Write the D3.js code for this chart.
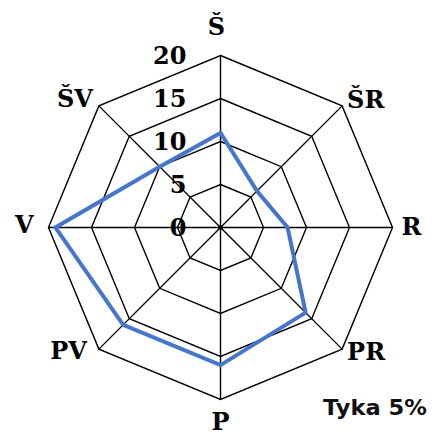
<!DOCTYPE html>
<html>
<head>
<meta charset="utf-8">
<script src="https://cdn.jsdelivr.net/npm/d3@7"></script>
<style>
html,body{margin:0;padding:0;background:#fff;}
svg{display:block;}
.serif{font-family:"DejaVu Serif","Liberation Serif",serif;font-weight:bold;}
</style>
</head>
<body>
<svg id="chart" width="434" height="442"></svg>
<script>
// Data
const directions = ["Š", "ŠR", "R", "PR", "P", "PV", "V", "ŠV"];
const values = [11, 6, 7.8, 14, 16, 16, 19.2, 10];
const tickValues = [0, 5, 10, 15, 20];
const tickLabels = ["0", "5", "10", "15", "20"];
const seriesName = "Tyka 5%";

// Layout
const W = 434, H = 442;
const cx = 220.5, cy = 227.5, outerR = 172;

const svg = d3.select("#chart");
const r = d3.scaleLinear().domain([0, 20]).range([0, outerR]);
const angle = d3.scaleLinear().domain([0, directions.length]).range([0, 2 * Math.PI]);

const g = svg.append("g").attr("transform", `translate(${cx},${cy})`);

function pt(i, v) {
  const a = angle(i);
  return [r(v) * Math.sin(a), -r(v) * Math.cos(a)];
}

// Rings
const ringLine = d3.line().curve(d3.curveLinearClosed);
tickValues.filter(t => t > 0).forEach(t => {
  g.append("path")
    .attr("d", ringLine(directions.map((d, i) => pt(i, t))))
    .attr("fill", "none")
    .attr("stroke", "#000")
    .attr("stroke-width", 1.4);
});

// Spokes
directions.forEach((d, i) => {
  const [x, y] = pt(i, 20);
  g.append("line")
    .attr("x1", 0).attr("y1", 0).attr("x2", x).attr("y2", y)
    .attr("stroke", "#000").attr("stroke-width", 1.4);
});
g.append("circle").attr("r", 2.2).attr("fill", "#000");

// Tick labels
g.selectAll("text.tick")
  .data(tickValues)
  .enter().append("text")
  .attr("class", "tick serif")
  .attr("x", -34)
  .attr("y", d => -r(d))
  .attr("dy", "0.34em")
  .attr("text-anchor", "end")
  .attr("font-size", 24)
  .text((d, i) => tickLabels[i]);

// Series
g.append("path")
  .attr("d", ringLine(values.map((v, i) => pt(i, v))))
  .attr("fill", "none")
  .attr("stroke", "#4675CC")
  .attr("stroke-width", 4)
  .attr("stroke-linejoin", "miter");

// Axis labels (layout offsets relative to outer vertex)
const labelLayout = [
  {dx: -4, dy: -29, anchor: "middle"},
  {dx: 5, dy: -6, anchor: "start"},
  {dx: 9, dy: -1, anchor: "start"},
  {dx: 5, dy: 3, anchor: "start"},
  {dx: 0, dy: 22, anchor: "middle"},
  {dx: -12, dy: 2, anchor: "end"},
  {dx: -15, dy: -3, anchor: "end"},
  {dx: -6, dy: -7, anchor: "end"}
];
directions.forEach((d, i) => {
  const [x, y] = pt(i, 20);
  const L = labelLayout[i];
  g.append("text")
    .attr("class", "serif")
    .attr("x", x + L.dx)
    .attr("y", y + L.dy)
    .attr("dy", "0.34em")
    .attr("text-anchor", L.anchor)
    .attr("font-size", 24)
    .text(d);
});

// Series label
svg.append("text")
  .attr("x", 323)
  .attr("y", 415)
  .attr("font-family", "'DejaVu Sans', sans-serif")
  .attr("font-weight", "bold")
  .attr("font-size", 21.5)
  .attr("textLength", 104)
  .attr("lengthAdjust", "spacingAndGlyphs")
  .attr("fill", "#111")
  .text(seriesName);
</script>
</body>
</html>
